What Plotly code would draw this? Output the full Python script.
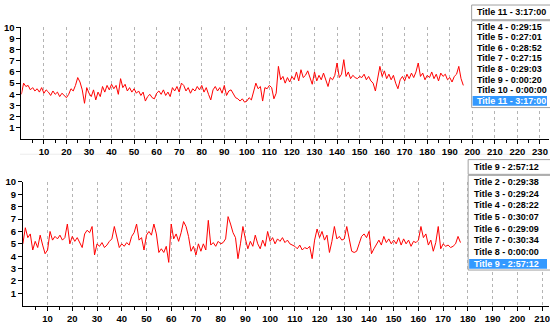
import plotly.graph_objects as go

# ---------------- data ----------------
top_values = [
    4.0, 5.0, 4.7, 4.8, 4.4, 4.6, 4.3, 4.5, 4.2, 4.6,
    4.1, 4.4, 4.2, 3.9, 4.3, 4.0, 4.2, 3.8, 4.1, 3.9,
    3.7, 4.0, 4.5, 4.3, 4.8, 5.5, 5.1, 4.4, 3.2, 4.6,
    4.1, 3.8, 4.4, 3.5, 4.2, 3.8, 4.7, 4.2, 4.8, 4.4,
    4.9, 4.5, 4.8, 4.0, 5.4, 4.6, 4.9, 4.3, 4.6, 4.2,
    4.5, 4.1, 4.3, 3.9, 4.2, 3.4, 3.8, 4.0, 3.7, 3.6,
    4.1, 4.3, 4.0, 4.4, 3.9, 4.2, 3.8, 4.6, 4.3, 4.7,
    4.2, 5.0, 4.8, 4.3, 4.6, 4.1, 4.5, 4.3, 4.7, 4.4,
    4.8, 4.2, 4.6, 4.0, 3.5, 4.4, 4.7, 4.3, 4.6, 4.1,
    4.8, 3.9, 4.3, 4.4, 4.0, 3.7, 3.6, 3.4, 3.6, 3.3,
    3.4, 3.7, 3.5, 4.3, 5.0, 4.5, 4.7, 3.4, 4.6, 4.5,
    4.8, 4.6, 3.6, 4.1, 6.5, 5.3, 5.6, 5.0, 5.5, 5.1,
    5.6, 5.3, 6.0, 5.2, 6.2, 5.5, 5.7, 6.1, 5.4, 4.9,
    6.0, 5.2, 5.7, 5.3, 5.9, 5.2, 4.7, 5.5, 5.3, 5.7,
    6.8, 5.5, 5.8, 7.1, 5.6, 6.0, 5.4, 5.7, 5.5, 5.4,
    5.6, 5.5, 5.8, 5.3, 5.6, 5.2, 5.0, 4.3, 5.5, 6.5,
    5.6, 6.1, 5.4, 5.8, 5.3, 5.7, 5.0, 4.5, 5.3, 5.6,
    5.2, 5.8, 5.4, 5.9, 5.5, 6.0, 6.8, 5.6, 5.9, 5.3,
    5.7, 5.5, 6.0, 5.4, 5.8, 5.2, 5.9, 5.6, 5.8, 5.3,
    5.5, 5.1, 5.6, 5.8, 6.5, 5.4, 4.8,
]
top_x = list(range(len(top_values)))

bottom_values = [
    5.0, 6.3, 5.5, 5.8, 4.5, 5.2, 4.7, 5.7, 4.9, 4.2,
    4.5, 6.0, 5.3, 5.6, 5.4, 5.7, 5.3, 5.5, 6.6, 5.0,
    5.6, 5.2, 5.5, 5.1, 4.7, 5.8, 6.1, 5.9, 6.4, 4.1,
    5.0, 4.8, 5.1, 4.7, 4.9, 5.2, 5.4, 6.4, 5.6, 4.7,
    5.0, 4.8, 5.1, 4.9, 5.6, 5.9, 6.6, 5.3, 5.5, 4.5,
    5.7, 6.0, 5.7, 6.6, 5.8, 4.3, 4.6, 4.3, 4.8, 3.5,
    6.6, 5.4, 5.8, 5.2, 5.9, 6.8, 6.4, 5.6, 4.4, 4.8,
    4.1, 5.0, 4.4, 5.0, 4.5, 6.9, 4.9, 5.1, 4.8, 5.2,
    5.0, 5.1, 5.4, 7.2, 6.6, 5.9, 5.5, 3.8, 5.0, 6.4,
    5.4, 4.6, 5.2, 4.8, 5.7, 5.0, 4.6, 5.3, 4.8, 6.0,
    5.2, 5.5, 5.0, 5.4, 5.2, 5.5, 5.1, 5.3, 5.0, 4.9,
    4.8, 4.6, 4.9, 4.5, 4.7, 4.6, 4.8, 3.8, 5.3, 6.2,
    5.5, 6.0, 5.3, 5.7, 4.3, 5.2, 6.4, 5.4, 5.6, 5.3,
    5.4, 6.4, 5.4, 4.4, 4.3, 4.4, 5.0, 5.6, 5.8, 5.5,
    6.0, 4.2, 4.6, 5.0, 5.3, 4.9, 5.6, 5.1, 5.4, 5.0,
    5.3, 5.0, 5.5, 4.9, 5.4, 5.0, 5.3, 4.8, 5.2, 5.1,
    5.3, 6.4, 5.5, 5.8, 4.9, 5.3, 4.4, 5.1, 6.4, 4.6,
    5.0, 4.8, 4.9, 4.7, 4.8, 5.0, 5.6, 5.1,
]
bottom_x = list(range(len(bottom_values)))

top_xticks = list(range(10, 240, 10))
top_xminor = list(range(5, 235, 10))
bottom_xticks = list(range(10, 220, 10))
bottom_xminor = list(range(5, 215, 10))
y_ticks = list(range(1, 11))

top_selected = "Title 11 - 3:17:00"
top_items = ["Title 4 - 0:29:15", "Title 5 - 0:27:01", "Title 6 - 0:28:52",
             "Title 7 - 0:27:15", "Title 8 - 0:29:03", "Title 9 - 0:00:20",
             "Title 10 - 0:00:00", "Title 11 - 3:17:00"]
bottom_selected = "Title 9 - 2:57:12"
bottom_items = ["Title 2 - 0:29:38", "Title 3 - 0:29:24", "Title 4 - 0:28:22",
                "Title 5 - 0:30:07", "Title 6 - 0:29:09", "Title 7 - 0:30:34",
                "Title 8 - 0:00:00", "Title 9 - 2:57:12"]

# ---------------- layout helpers ----------------
W, H = 550, 325
def px(x):
    return x / W
def py(y):
    return 1 - y / H

FONT = "Liberation Sans, Arial, sans-serif"
tickfont = dict(family=FONT, size=9.5, color="black", weight="bold")

fig = go.Figure()
fig.add_trace(go.Scatter(x=top_x, y=top_values, mode="lines",
                         line=dict(color="#ff0000", width=1),
                         xaxis="x", yaxis="y", hoverinfo="skip"))
fig.add_trace(go.Scatter(x=bottom_x, y=bottom_values, mode="lines",
                         line=dict(color="#ff0000", width=1),
                         xaxis="x2", yaxis="y2", hoverinfo="skip"))

def xaxis_cfg(domain, rng, ticks, minor, anchor):
    return dict(domain=domain, range=rng, anchor=anchor,
                tickmode="array", tickvals=ticks, ticktext=[str(t) for t in ticks],
                ticks="outside", ticklen=4, tickcolor="black", tickwidth=1,
                showline=True, linecolor="black", linewidth=1,
                showgrid=True, gridcolor="#b4b4b4", griddash="dot", gridwidth=1,
                zeroline=False, tickfont=tickfont, ticklabeloverflow="allow",
                minor=dict(tickmode="array", tickvals=minor, ticks="outside",
                           ticklen=3, tickcolor="black", showgrid=False))

def yaxis_cfg(domain, anchor):
    return dict(domain=domain, range=[0, 10], anchor=anchor,
                tickmode="array", tickvals=y_ticks, ticktext=[str(t) for t in y_ticks],
                ticks="outside", ticklen=4, tickcolor="black", tickwidth=1,
                showline=True, linecolor="black", linewidth=1,
                showgrid=False, zeroline=False, tickfont=tickfont)

top_x0, top_ppu = 21.4, 2.259
bot_x0, bot_ppu = 22.9, 2.477

fig.update_layout(
    width=W, height=H, margin=dict(l=0, r=0, t=0, b=0),
    paper_bgcolor="white", plot_bgcolor="white", showlegend=False,
    xaxis=xaxis_cfg([px(top_x0), 1], [0, (W - top_x0) / top_ppu], top_xticks, top_xminor, "y"),
    yaxis=yaxis_cfg([py(135.6), py(21.6)], "x"),
    xaxis2=xaxis_cfg([px(bot_x0), 1], [0, (W - bot_x0) / bot_ppu], bottom_xticks, bottom_xminor, "y2"),
    yaxis2=yaxis_cfg([py(305.3), py(179.3)], "x2"),
)

shapes = []
annots = []
itemfont = dict(family=FONT, size=9, color="black", weight="bold")

def rect(x0, y0, x1, y1, fill="white", line="#a0a0a0", width=1):
    shapes.append(dict(type="rect", xref="paper", yref="paper", layer="above",
                       x0=px(x0), x1=px(x1), y0=py(y1), y1=py(y0),
                       fillcolor=fill, line=dict(color=line, width=width)))

def text(x, y, s, color="black"):
    f = dict(itemfont)
    f["color"] = color
    annots.append(dict(xref="paper", yref="paper", x=px(x), y=py(y), text=s,
                       showarrow=False, xanchor="left", yanchor="middle", font=f))

def listbox(left, combo_top, combo_bot, list_top, list_bot, first_y, step, items, selected):
    rect(left, combo_top, 552, combo_bot)
    text(left + 3.5, (combo_top + combo_bot) / 2, selected)
    rect(left, list_top, 552, list_bot)
    for i, s in enumerate(items):
        yy = first_y + step * i
        if s == selected:
            rect(left + 1, yy - 5, 548, yy + 5, fill="#3399ff", line="#3399ff", width=0)
            text(left + 3.5, yy, s, color="white")
        else:
            text(left + 3.5, yy, s)

listbox(472.5, -1, 14, 15, 103.5, 21.0, 10.8, top_items, top_selected)
listbox(469, 156.5, 171.5, 172.5, 269, 179.3, 11.91, bottom_items, bottom_selected)

# faint separator line between the two panels
shapes.append(dict(type="line", xref="paper", yref="paper", layer="below",
                   x0=px(20), x1=1, y0=py(151), y1=py(151),
                   line=dict(color="#ececec", width=1)))

fig.update_layout(shapes=shapes, annotations=annots)
fig.write_html("out.html")
